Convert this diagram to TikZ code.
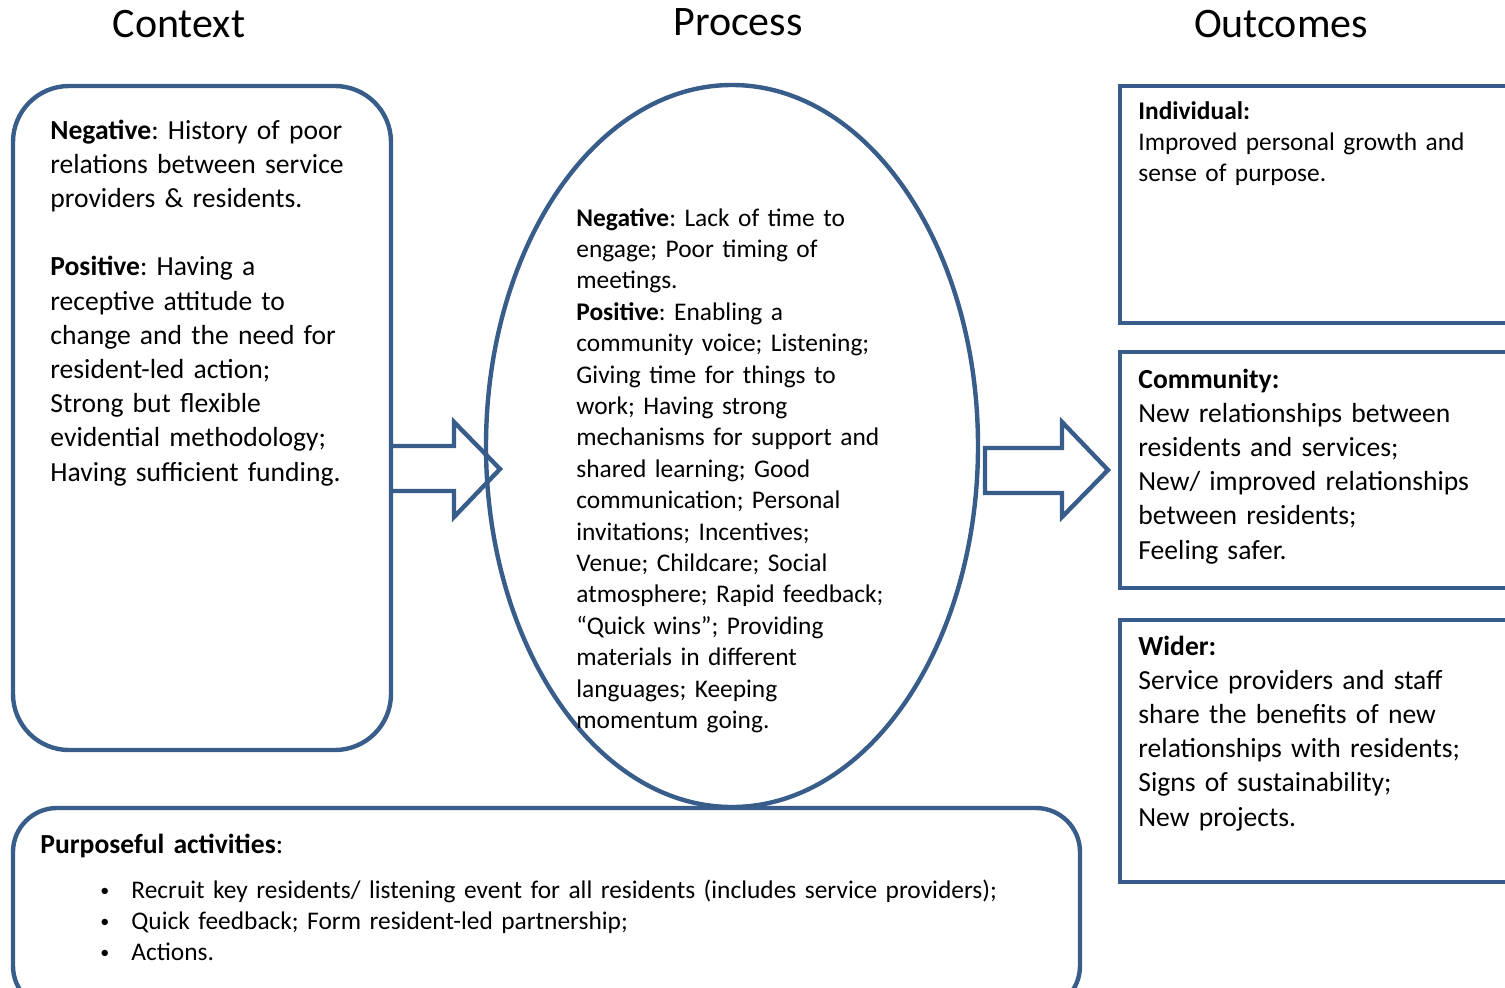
\documentclass[tikz,border=0pt]{standalone}
\usepackage{fontspec}
\setmainfont{Carlito}
\usetikzlibrary{shapes.geometric}
\definecolor{boxblue}{RGB}{56,93,138}
\frenchspacing
\newcommand{\actbullet}{\makebox[15.5pt][l]{\raisebox{1pt}{\fontsize{9}{9}\selectfont •}}}

\begin{document}
\begin{tikzpicture}[x=0.5pt,y=-0.5pt,
    outline/.style={draw=boxblue,line width=2.2pt},
    heading/.style={anchor=base,inner sep=0pt,font=\fontsize{21}{25}\selectfont},
    bigtext/.style={anchor=base west,align=left,inner sep=0pt,text width=230pt,
      font=\fontsize{13.8}{17.1}\selectfont},
    smalltext/.style={anchor=base west,align=left,inner sep=0pt,text width=230pt,
      font=\fontsize{12.7}{15.7}\selectfont}]

      \useasboundingbox (0,0) rectangle (1505,987);

      % column headings
      \node[heading] (ctxtitle) at (179,37) {Context};
      \node[heading] (proctitle) at (738,35) {Process};
      \node[heading] (outtitle) at (1281,37) {Outcomes};


      % context
      \draw[outline,rounded corners=28pt] (13,86) rectangle (391,750);
      \node[bigtext] (ctxtext) at (50,139) {\textbf{Negative}: History of poor\\
        relations between service\\
        providers \& residents.\\
        \mbox{}\\
        \textbf{Positive}: Having a\\
        receptive attitude to\\
        change and the need for\\
        resident-led action;\\
        Strong but flexible\\
        evidential methodology;\\
        Having sufficient funding.};

      \draw[outline,line join=miter] (393,446) -- (454,446) -- (454,422) -- (500,469)
        -- (454,517) -- (454,491) -- (393,491);


      % process
      \node[ellipse,outline,inner sep=0pt,minimum width=246pt,minimum height=361pt]
        (process) at (732,446) {};
      \node[smalltext] (proctext) at (576,226) {\textbf{Negative}: Lack of time to\\
        engage; Poor timing of\\
        meetings.\\
        \textbf{Positive}: Enabling a\\
        community voice; Listening;\\
        Giving time for things to\\
        work; Having strong\\
        mechanisms for support and\\
        shared learning; Good\\
        communication; Personal\\
        invitations; Incentives;\\
        Venue; Childcare; Social\\
        atmosphere; Rapid feedback;\\
        “Quick wins”; Providing\\
        materials in different\\
        languages; Keeping\\
        momentum going.};

      \draw[outline,line join=miter] (985,448) -- (1062,448) -- (1062,422) -- (1108,470)
        -- (1062,517) -- (1062,493) -- (985,493) -- cycle;


      % outcomes
      \draw[outline] (1120,86) rectangle (1530,323);
      \node[smalltext] (indtext) at (1138,119) {\textbf{Individual:}\\
        Improved personal growth and\\
        sense of purpose.};

      \draw[outline] (1120,352) rectangle (1530,588);
      \node[bigtext] (comtext) at (1138,388) {\textbf{Community:}\\
        New relationships between\\
        residents and services;\\
        New/ improved relationships\\
        between residents;\\
        Feeling safer.};

      \draw[outline] (1120,620) rectangle (1530,882);
      \node[bigtext] (widtext) at (1138,655) {\textbf{Wider:}\\
        Service providers and staff\\
        share the benefits of new\\
        relationships with residents;\\
        Signs of sustainability;\\
        New projects.};


      % activities
      \draw[outline,rounded corners=22pt] (13,808) rectangle (1080,1010);
      \node[bigtext] (acttitle) at (40,853) {\textbf{Purposeful activities}:};
      \node[smalltext,text width=500pt] (acttext) at (100,898)
        {\actbullet Recruit key residents/ listening event for all residents (includes service providers);\\
        \actbullet Quick feedback; Form resident-led partnership;\\
        \actbullet Actions.};

    \end{tikzpicture}
\end{document}
